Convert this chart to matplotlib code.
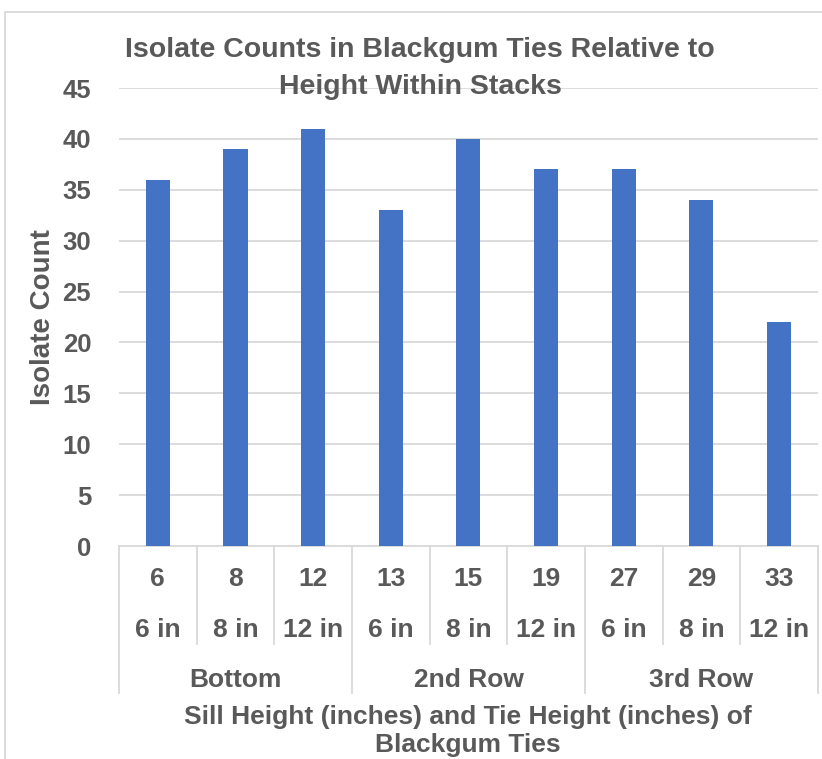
import matplotlib.pyplot as plt
from matplotlib.lines import Line2D
from matplotlib.patches import Rectangle

sill_heights = ["6", "8", "12", "13", "15", "19", "27", "29", "33"]
tie_heights = ["6 in", "8 in", "12 in", "6 in", "8 in", "12 in", "6 in", "8 in", "12 in"]
rows = ["Bottom", "2nd Row", "3rd Row"]
isolate_counts = [36, 39, 41, 33, 40, 37, 37, 34, 22]

txt = "#595959"
grid = "#D9D9D9"
font = ["Liberation Sans", "DejaVu Sans"]
narrow = ["Liberation Sans Narrow", "Liberation Sans", "DejaVu Sans"]

fig = plt.figure(figsize=(8.22, 7.59), dpi=100)
ax = fig.add_axes([0.1448, 0.2806, 0.8502, 0.6034])

x = list(range(len(isolate_counts)))
ax.bar(x, isolate_counts, width=0.31, color="#4472C4", zorder=3)

ax.set_xlim(-0.5, len(x) - 0.5)
ax.set_ylim(0, 45)
ax.set_yticks(range(0, 46, 5))
ax.yaxis.grid(True, color=grid, linewidth=1.3, zorder=0)
for s in ["top", "right", "left"]:
    ax.spines[s].set_visible(False)
ax.spines["bottom"].set_color(grid)
ax.spines["bottom"].set_linewidth(1.3)
ax.tick_params(axis="y", length=0, pad=20, labelsize=18.5, labelcolor=txt)
for lab in ax.get_yticklabels():
    lab.set_fontweight("bold")
    lab.set_family(font)
ax.set_xticks([])

ax.set_ylabel("Isolate Count", fontsize=20, fontweight="bold", color=txt,
              family=font, labelpad=5)

# multi-level category axis drawn below the plot
tr = ax.get_xaxis_transform()
for i in x:
    ax.text(i, -0.072, sill_heights[i], transform=tr, ha="center", va="center",
            fontsize=19, fontweight="bold", color=txt, family=font)
    ax.text(i, -0.183, tie_heights[i], transform=tr, ha="center", va="center",
            fontsize=19, fontweight="bold", color=txt, family=font)
for g, name in enumerate(rows):
    ax.text(3 * g + 1, -0.292, name, transform=tr, ha="center", va="center",
            fontsize=19, fontweight="bold", color=txt, family=font)

for b in range(len(x) + 1):
    pos = b - 0.5
    bottom = -0.32 if b % 3 == 0 else -0.215
    ax.add_line(Line2D([pos, pos], [0, bottom], transform=tr, color=grid,
                       linewidth=1.3, clip_on=False))

fig.text(0.569, 0.037, "Sill Height (inches) and Tie Height (inches) of\nBlackgum Ties",
         ha="center", va="center", fontsize=19, fontweight="bold", color=txt,
         family=font, linespacing=1.25)

fig.text(0.511, 0.91, "Isolate Counts in Blackgum Ties Relative to\nHeight Within Stacks",
         ha="center", va="center", fontsize=20.5, fontweight="bold", color=txt,
         family=narrow, linespacing=1.55)

# chart area border
fig.add_artist(Rectangle((0.006, -0.1), 1.2, 1.084, transform=fig.transFigure,
                         fill=False, edgecolor=grid, linewidth=1.3))

fig.savefig("out.png", dpi=100)
